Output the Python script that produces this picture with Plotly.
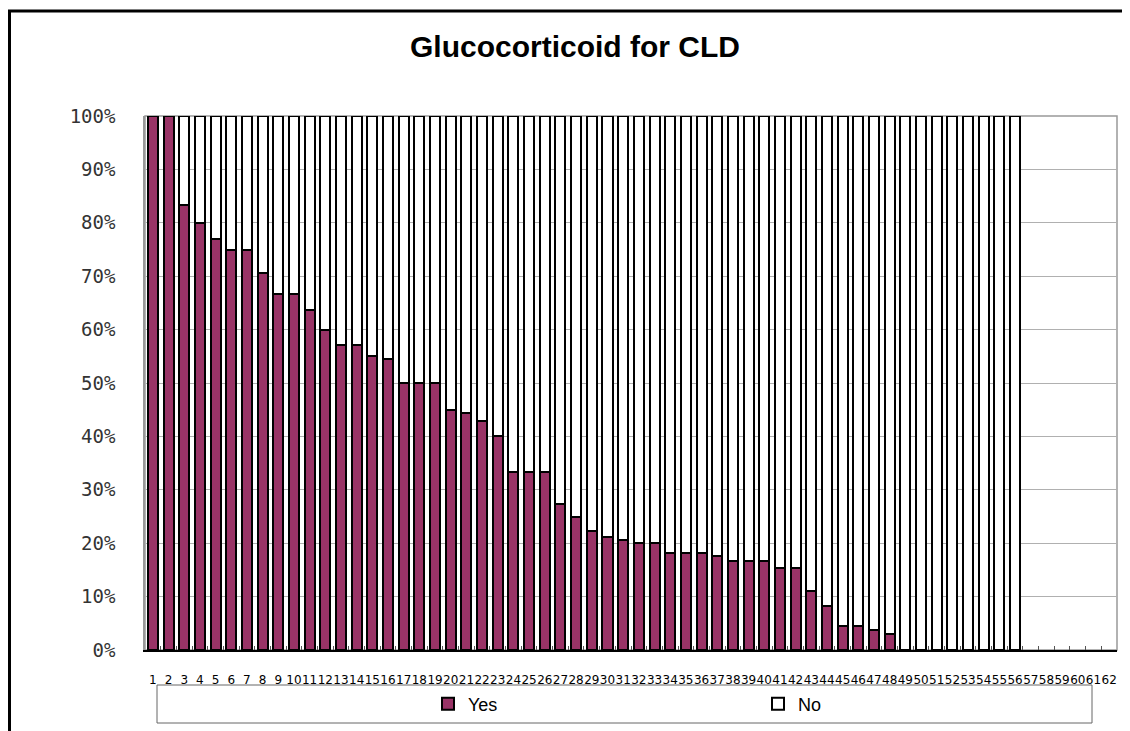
import plotly.graph_objects as go

categories = [str(i) for i in range(1, 63)]
yes_pct = [100, 100, 83.3, 80.0, 76.9, 75.0, 75.0, 70.6, 66.7, 66.7,
           63.6, 60.0, 57.1, 57.1, 55.0, 54.5, 50.0, 50.0, 50.0, 45.0,
           44.4, 42.9, 40.0, 33.3, 33.3, 33.3, 27.3, 25.0, 22.2, 21.1,
           20.6, 20.0, 20.0, 18.2, 18.2, 18.2, 17.6, 16.7, 16.7, 16.7,
           15.4, 15.4, 11.1, 8.3, 4.5, 4.5, 3.8, 3.0, 0, 0,
           0, 0, 0, 0, 0, 0, None, None, None, None,
           None, None]
no_pct = [None if v is None else round(100 - v, 1) for v in yes_pct]
y_ticks = [0, 10, 20, 30, 40, 50, 60, 70, 80, 90, 100]
y_labels = [f"{t}%" for t in y_ticks]

W, H = 1130, 731
OFF = 8  # page body offset
L, R, T, B = 137, 21, 108, 89
pw, ph = W - L - R, H - T - B


def px(sx):
    return (sx - OFF - L) / pw


def py(sy):
    return (H - B - (sy - OFF)) / ph


fig = go.Figure()
fig.add_trace(go.Bar(x=categories, y=yes_pct, name="Yes",
                     marker=dict(color="#993366", line=dict(color="black", width=2))))
fig.add_trace(go.Bar(x=categories, y=no_pct, name="No",
                     marker=dict(color="white", line=dict(color="black", width=2))))

fig.update_layout(
    barmode="stack",
    bargap=0.36,
    width=W, height=H,
    margin=dict(l=L, r=R, t=T, b=B, autoexpand=False),
    paper_bgcolor="white",
    plot_bgcolor="white",
    title=dict(text="<b>Glucocorticoid for CLD</b>", x=px(575), xanchor="center", xref="paper",
               y=1 - (46 - OFF) / H, yanchor="middle",
               font=dict(family="Liberation Sans, Arial", size=30, color="black")),
    showlegend=True,
    legend=dict(orientation="h", x=px(428), xanchor="left", y=py(704), yanchor="middle",
                entrywidth=285, entrywidthmode="pixels",
                font=dict(family="Liberation Sans, Arial", size=18, color="black"),
                bgcolor="rgba(0,0,0,0)", traceorder="normal"),
    xaxis=dict(type="category", tickmode="linear", dtick=1, tickangle=0,
               tickfont=dict(family="DejaVu Sans", size=12, color="black"),
               showline=True, linecolor="black", linewidth=1.5,
               ticks="inside", ticklen=4, tickcolor="#555555", tickson="boundaries",
               ticklabelstandoff=18,
               mirror=False, showgrid=False, range=[-0.5, 61.5]),
    yaxis=dict(range=[0, 100], tickvals=y_ticks, ticktext=y_labels,
               tickfont=dict(family="DejaVu Sans Mono", size=19, color="#333333"),
               showgrid=True, gridcolor="#b0b0b0", gridwidth=1,
               showline=True, linecolor="#999999", linewidth=1.5,
               ticks="", ticklabelstandoff=24, zeroline=False),
    shapes=[
        dict(type="rect", xref="paper", yref="paper", x0=0, x1=1, y0=0, y1=1,
             line=dict(color="#999999", width=1.5), layer="below"),
        dict(type="rect", xref="paper", yref="paper", x0=px(157), x1=px(1092),
             y0=py(723), y1=py(685), line=dict(color="#666666", width=1)),
        dict(type="rect", xref="paper", yref="paper", x0=px(9.5), x1=px(1150),
             y0=py(760), y1=py(11), line=dict(color="black", width=3)),
    ],
)

fig.write_html("out.html")
